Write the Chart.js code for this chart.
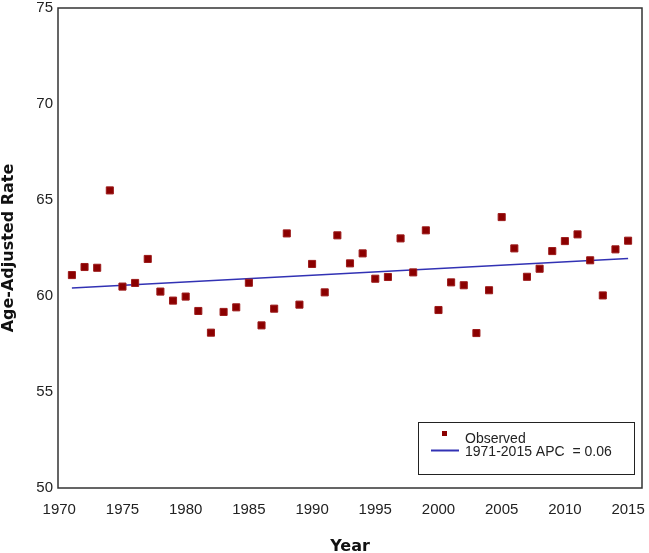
<!DOCTYPE html>
<html>
<head>
<meta charset="utf-8">
<script src="https://cdn.jsdelivr.net/npm/chart.js@4.4.0/dist/chart.umd.min.js"></script>
<style>
  html, body { margin: 0; padding: 0; background: #fff; }
  #wrap { width: 649px; height: 553px; }
</style>
</head>
<body>
<div id="wrap"><canvas id="chart" width="649" height="553"></canvas></div>
<script>
const years = [
  1971, 1972, 1973, 1974, 1975, 1976, 1977, 1978, 1979, 1980,
  1981, 1982, 1983, 1984, 1985, 1986, 1987, 1988, 1989, 1990,
  1991, 1992, 1993, 1994, 1995, 1996, 1997, 1998, 1999, 2000,
  2001, 2002, 2003, 2004, 2005, 2006, 2007, 2008, 2009, 2010,
  2011, 2012, 2013, 2014, 2015,
];
const observed = [
  61.09, 61.51, 61.47, 65.50, 60.49, 60.68, 61.93, 60.23, 59.76, 59.97,
  59.22, 58.09, 59.17, 59.41, 60.69, 58.47, 59.34, 63.26, 59.55, 61.67,
  60.19, 63.16, 61.70, 62.22, 60.90, 60.99, 63.00, 61.23, 63.42, 59.27,
  60.71, 60.56, 58.07, 60.30, 64.11, 62.48, 61.00, 61.42, 62.34, 62.86,
  63.21, 61.86, 60.03, 62.43, 62.88,
];
// fitted APC line, read at its two ends
const trendYears = [1971, 2015];
const trendValues = [60.42, 61.95];

const xTicks = [1970, 1975, 1980, 1985, 1990, 1995, 2000, 2005, 2010, 2015];
const yTicks = [50, 55, 60, 65, 70, 75];

const legendLabels = ["Observed", "1971-2015 APC  = 0.06"];

const POINT_COLOR = "#8b0000";
const LINE_COLOR = "#3232b4";

const boxPlugin = {
  id: "boxAndLegend",
  afterDraw(chart) {
    const { ctx, chartArea: a } = chart;
    ctx.save();
    // plot frame
    ctx.strokeStyle = "#333";
    ctx.lineWidth = 1.5;
    ctx.strokeRect(a.left, a.top, a.right - a.left, a.bottom - a.top);

    // legend box in the lower right corner
    const w = 216, h = 52;
    const bx = a.right - 8 - w;
    const by = a.bottom - 14 - h;
    ctx.lineWidth = 1;
    ctx.strokeStyle = "#222";
    ctx.strokeRect(bx + 0.5, by + 0.5, w, h);

    ctx.fillStyle = POINT_COLOR;
    ctx.fillRect(bx + 24, by + 9, 5, 5);

    ctx.strokeStyle = LINE_COLOR;
    ctx.lineWidth = 2;
    ctx.beginPath();
    ctx.moveTo(bx + 13, by + 28.5);
    ctx.lineTo(bx + 41, by + 28.5);
    ctx.stroke();

    ctx.fillStyle = "#222";
    ctx.font = "14px 'Liberation Sans', Arial, sans-serif";
    ctx.textBaseline = "alphabetic";
    ctx.fillText(legendLabels[0], bx + 47, by + 21);
    ctx.fillText(legendLabels[1], bx + 47, by + 34);
    ctx.restore();
  },
};

new Chart(document.getElementById("chart").getContext("2d"), {
  type: "scatter",
  data: {
    datasets: [
      {
        label: legendLabels[0],
        data: years.map((y, i) => ({ x: y, y: observed[i] })),
        pointStyle: "rect",
        pointRadius: 5,
        pointHoverRadius: 5,
        backgroundColor: POINT_COLOR,
        borderColor: "#9c1a1a",
        borderWidth: 1,
        order: 1,
      },
      {
        label: legendLabels[1],
        type: "line",
        data: trendYears.map((y, i) => ({ x: y, y: trendValues[i] })),
        borderColor: LINE_COLOR,
        borderWidth: 1.6,
        pointRadius: 0,
        fill: false,
        order: 2,
      },
    ],
  },
  options: {
    responsive: false,
    animation: false,
    devicePixelRatio: 1,
    layout: { padding: { top: 8, right: 7, left: 0, bottom: 0 } },
    plugins: {
      legend: { display: false },
      tooltip: { enabled: false },
    },
    scales: {
      x: {
        type: "linear",
        min: 1969.9,
        max: 2016.1,
        afterBuildTicks: (scale) => { scale.ticks = xTicks.map((v) => ({ value: v })); },
        afterFit: (scale) => {
          scale.height = 65;
          scale.paddingLeft = 0;
          scale.paddingRight = 0;
        },
        grid: { display: false, drawTicks: false },
        border: { display: false },
        ticks: {
          padding: 13,
          color: "#222",
          font: { family: "'Liberation Sans', Arial, sans-serif", size: 15 },
          callback: (v) => String(v),
        },
        title: {
          display: true,
          text: "Year",
          color: "#111",
          font: { family: "'DejaVu Sans', Verdana, sans-serif", size: 16, weight: "bold", lineHeight: 0.75 },
          padding: { top: 0, bottom: 0 },
        },
      },
      y: {
        min: 50,
        max: 75,
        afterBuildTicks: (scale) => { scale.ticks = yTicks.map((v) => ({ value: v })); },
        afterFit: (scale) => {
          scale.width = 58;
          scale.paddingTop = 0;
          scale.paddingBottom = 0;
        },
        grid: { display: false, drawTicks: false },
        border: { display: false },
        ticks: {
          padding: 5,
          color: "#222",
          font: { family: "'Liberation Sans', Arial, sans-serif", size: 15 },
        },
        title: {
          display: true,
          text: "Age-Adjusted Rate",
          color: "#111",
          font: { family: "'DejaVu Sans', Verdana, sans-serif", size: 16, weight: "bold", lineHeight: 1 },
          padding: { top: 1, bottom: 0 },
        },
      },
    },
  },
  plugins: [boxPlugin],
});
</script>
</body>
</html>
